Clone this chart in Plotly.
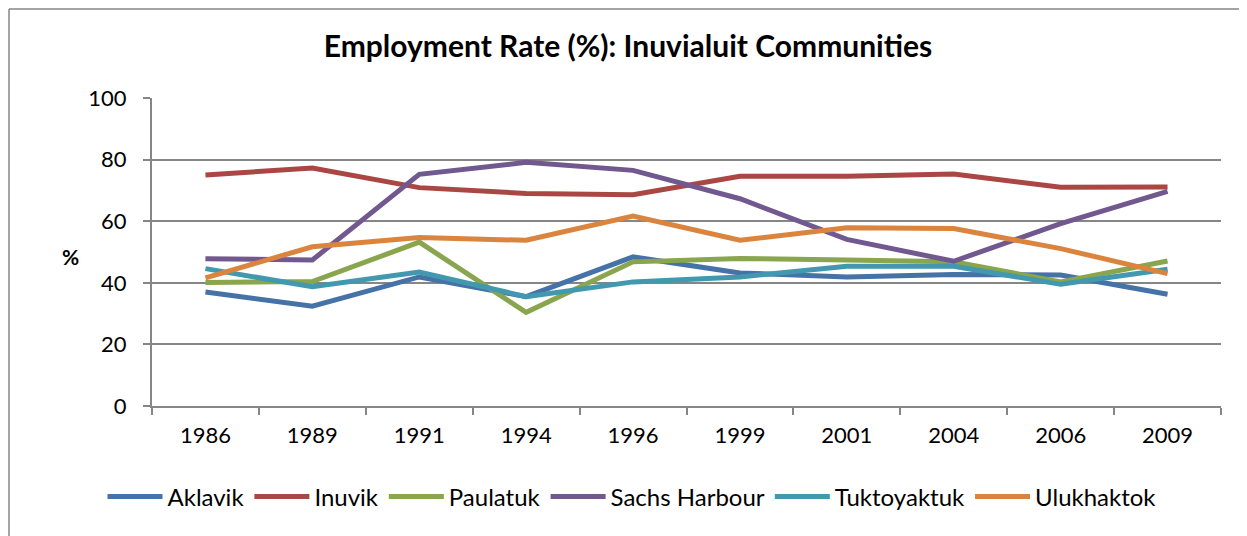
import plotly.graph_objects as go

# Dados (taxa de emprego, %)
anos = ["1986", "1989", "1991", "1994", "1996", "1999", "2001", "2004", "2006", "2009"]

aklavik = [37.0, 32.4, 41.9, 35.5, 48.4, 43.2, 41.9, 42.7, 42.5, 36.3]
inuvik = [75.0, 77.3, 70.9, 69.0, 68.6, 74.6, 74.6, 75.3, 71.0, 71.1]
paulatuk = [40.1, 40.4, 53.2, 30.4, 46.8, 47.9, 47.4, 46.8, 40.3, 47.1]
sachs_harbour = [47.8, 47.4, 75.2, 79.1, 76.5, 67.3, 54.1, 47.0, 59.2, 69.7]
tuktoyaktuk = [44.6, 38.7, 43.5, 35.5, 40.3, 41.9, 45.4, 45.4, 39.5, 44.4]
ulukhaktok = [41.6, 51.7, 54.7, 53.8, 61.7, 53.8, 57.9, 57.6, 51.1, 43.0]

series = [
    ("Aklavik", aklavik, "#4572A7"),
    ("Inuvik", inuvik, "#AA4643"),
    ("Paulatuk", paulatuk, "#89A54E"),
    ("Sachs Harbour", sachs_harbour, "#71588F"),
    ("Tuktoyaktuk", tuktoyaktuk, "#4198AF"),
    ("Ulukhaktok", ulukhaktok, "#DB843D"),
]

FONTE = "Lato, Calibri, Arial, sans-serif"
CINZA = "#868686"

fig = go.Figure()
for nome, valores, cor in series:
    fig.add_trace(go.Scatter(
        x=anos, y=valores, name=nome, mode="lines",
        line=dict(color=cor, width=5),
    ))

# A página tem margem de 8 px; coordenadas abaixo já descontam isso
OFF = 8
W, H = 1247 - OFF, 536 - OFF
L, T = 152 - OFF, 98 - OFF
R = W - (1221 - OFF)
B = H - (406 - OFF)
pw, ph = W - L - R, H - T - B


def py(tela_y):
    # posição vertical da tela -> coordenada paper
    return (406 - tela_y) / ph


def px_(tela_x):
    return (tela_x - 152) / pw


fig.update_layout(
    width=W, height=H,
    margin=dict(l=L, r=R, t=T, b=B, autoexpand=False),
    paper_bgcolor="white", plot_bgcolor="white",
    font=dict(family=FONTE, size=22, color="black"),
    title=dict(
        text="<b>Employment Rate (%): Inuvialuit Communities</b>",
        x=(628 - OFF) / W, xanchor="center", xref="container",
        y=1 - (46 - OFF) / H, yanchor="middle", yref="container",
        font=dict(size=30, family=FONTE),
    ),
    legend=dict(
        orientation="h", x=px_(632), xanchor="center",
        y=py(497), yanchor="middle",
        font=dict(size=24, family=FONTE),
        itemwidth=55, tracegroupgap=0,
    ),
    showlegend=True,
)

fig.update_xaxes(
    type="category", range=[-0.5, 9.5],
    showline=True, linecolor=CINZA, linewidth=2,
    ticks="outside", tickson="boundaries", ticklen=7, tickcolor=CINZA, tickwidth=2,
    ticklabelstandoff=9, showgrid=False, zeroline=False,
    tickfont=dict(size=22), tickangle=0,
)
fig.update_yaxes(
    range=[0, 100], dtick=20,
    showline=True, linecolor=CINZA, linewidth=2,
    ticks="outside", ticklen=7, tickcolor=CINZA, tickwidth=2,
    ticklabelstandoff=12,
    showgrid=True, gridcolor=CINZA, gridwidth=1.5, zeroline=False,
    tickfont=dict(size=22),
)

# Rótulo do eixo y
fig.add_annotation(
    text="<b>%</b>", xref="paper", yref="paper",
    x=px_(60), y=py(257), showarrow=False,
    font=dict(size=21, family=FONTE),
)

# Borda da área do gráfico (esquerda e topo)
x0 = (1 - L) / pw
y0 = (H - 1 - B) / ph
fig.add_shape(type="line", xref="paper", yref="paper",
              x0=x0, x1=x0, y0=y0, y1=-B / ph - 0.05,
              line=dict(color=CINZA, width=1.5))
fig.add_shape(type="line", xref="paper", yref="paper",
              x0=x0, x1=1 + R / pw + 0.05, y0=y0, y1=y0,
              line=dict(color=CINZA, width=1.5))

fig.write_html("out.html")
